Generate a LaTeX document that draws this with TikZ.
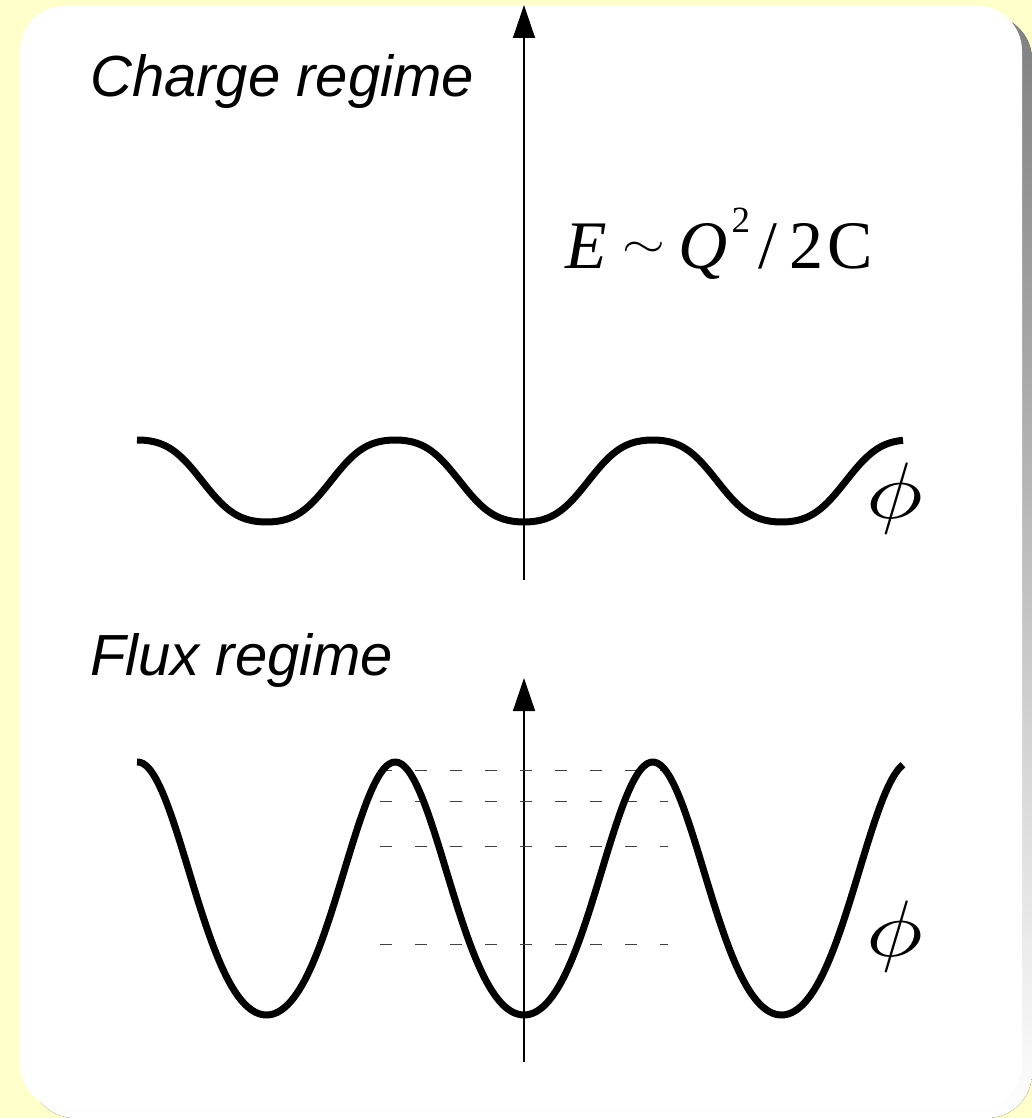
\documentclass[tikz,border=0pt]{standalone}
\usepackage{fontspec}
\setmainfont{Liberation Serif}
\setsansfont{Liberation Sans}
\usetikzlibrary{arrows.meta}
\definecolor{paper}{HTML}{FFFFCC}
\definecolor{shade}{HTML}{808080}

\begin{document}
\begin{tikzpicture}[
    x=1pt, y=-1pt,
    axis/.style={line width=1.5pt, -{Triangle[width=22pt, length=33pt]}},
    wave/.style={line width=7pt, line join=round},
    level/.style={line width=1pt, black!75, dash pattern=on 12pt off 23pt},
    regime/.style={anchor=base west, inner sep=0pt,
                   font=\sffamily\itshape\fontsize{58}{60}\selectfont},
    energy/.style={anchor=base west, inner sep=0pt, font=\fontsize{68}{72}\selectfont},
    phase/.style={inner sep=0pt},
]

% card with shadow
\fill[paper] (0,0) rectangle (1032,1118);
\fill[shade, rounded corners=45pt] (30,15) rectangle (1032,1118);
\fill[white, rounded corners=45pt] (20,6) rectangle (1022,1109);

% axes
\coordinate (upbot) at (524,580);
\coordinate (uptop) at (524,5);
\coordinate (lowbot) at (524,1062);
\coordinate (lowtop) at (524,678);
\draw[axis] (upbot) -- (uptop);
\draw[axis] (lowbot) -- (lowtop);

% charge regime: shallow wave
\draw[wave] plot[domain=137:903, samples=241, smooth]
    (\x, {481 + 41*(cos((\x-524)*1.39806) - 0.06*cos(3*(\x-524)*1.39806))/0.94});

% flux regime: deep wells with levels
\foreach \lvl in {770,801,846,944}
    \draw[level] (380,\lvl) -- (668,\lvl);
\draw[wave] plot[domain=137:903, samples=241, smooth]
    (\x, {888.5 + 126.5*(cos((\x-524)*1.39806) - 0.1*cos(2*(\x-524)*1.39806) + 0.1)});

% labels
\node[regime] (charge) at (90,97) {Charge regime};
\node[regime] (flux) at (90,675) {Flux regime};
\node[energy] (formula) at (565,268) {\textit{E}\kern16pt\raisebox{10.5pt}{\scalebox{5.5}[4.2]{\normalsize$\sim$}}\kern13pt\textit{Q}\kern4pt\raisebox{36pt}{\fontsize{37}{37}\selectfont 2}\kern8pt/\kern12pt2\kern4ptC};
\node[phase] (phiup) at (895,498) {\scalebox{9.5}[8]{$\phi$}};
\node[phase] (philow) at (895,936) {\scalebox{9.5}[8]{$\phi$}};

\end{tikzpicture}
\end{document}
